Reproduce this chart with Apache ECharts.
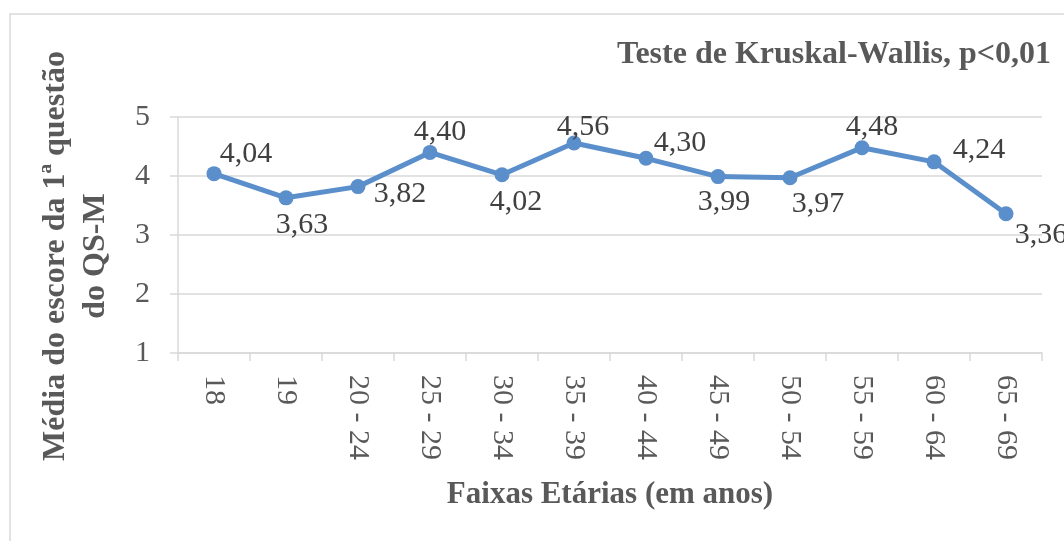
<!DOCTYPE html>
<html lang="pt">
<head>
    <meta charset="UTF-8">
    <title>Média do escore da 1ª questão do QS-M</title>
    <style>
        html, body { margin: 0; padding: 0; background: #fff; }
        #main { width: 1064px; height: 541px; }
    </style>
</head>
<body>
<div id="main"></div>
<script src="https://cdn.jsdelivr.net/npm/echarts@6/dist/echarts.min.js"></script>
<script>
    // dados
    const faixas = ['18', '19', '20 - 24', '25 - 29', '30 - 34', '35 - 39',
        '40 - 44', '45 - 49', '50 - 54', '55 - 59', '60 - 64', '65 - 69'];
    const medias = [4.04, 3.63, 3.82, 4.40, 4.02, 4.56, 4.30, 3.99, 3.97, 4.48, 4.24, 3.36];
    const yTicks = [1, 2, 3, 4, 5];

    // deslocamento de cada rótulo em relação ao ponto (estilo)
    const labelOffsets = [[32, -20], [16, 27], [42, 8], [10, -20], [14, 27], [9, -16],
        [34, -15], [6, 26], [28, 26], [10, -21], [45, -12], [35, 21]];

    const serif = "'Liberation Serif', 'Times New Roman', serif";
    const grey = '#595959';
    const gridColor = '#d9d9d9';

    const myChart = echarts.init(document.getElementById('main'));

    myChart.setOption({
        animation: false,
        title: {
            text: 'Teste de Kruskal-Wallis, p<0,01',
            right: 8,
            top: 34,
            textStyle: { fontFamily: serif, fontSize: 32, fontWeight: 'bold', color: grey }
        },
        graphic: [
            {
                type: 'rect',
                shape: { x: 10, y: 14, width: 1200, height: 700 },
                style: { fill: 'none', stroke: gridColor, lineWidth: 1.5 },
                silent: true
            },
            {
                type: 'text',
                x: 76, y: 256,
                rotation: Math.PI / 2,
                style: {
                    text: 'Média do escore da 1ª questão\ndo QS-M',
                    fontFamily: serif, fontSize: 32, fontWeight: 'bold',
                    fill: grey, align: 'center', verticalAlign: 'middle', lineHeight: 40
                }
            }
        ],
        grid: { left: 178, right: 22, top: 117, bottom: 188 },
        xAxis: {
            type: 'category',
            data: faixas,
            boundaryGap: true,
            name: 'Faixas Etárias (em anos)',
            nameLocation: 'middle',
            nameGap: 126,
            nameTextStyle: { fontFamily: serif, fontSize: 31, fontWeight: 'bold', color: grey },
            axisLine: { lineStyle: { color: gridColor, width: 1.5 } },
            axisTick: { show: true, length: 8, lineStyle: { color: gridColor, width: 1.5 } },
            axisLabel: { rotate: -90, margin: 22, fontFamily: serif, fontSize: 30, color: grey }
        },
        yAxis: {
            type: 'value',
            min: yTicks[0],
            max: yTicks[yTicks.length - 1],
            interval: 1,
            axisLine: { show: true, lineStyle: { color: gridColor, width: 1.5 } },
            axisTick: { show: true, length: 8, lineStyle: { color: gridColor, width: 1.5 } },
            splitLine: { lineStyle: { color: gridColor, width: 1.5 } },
            axisLabel: { margin: 28, fontFamily: serif, fontSize: 30, color: grey }
        },
        series: [
            {
                type: 'line',
                data: medias.map(function (v, i) {
                    return {
                        value: v,
                        label: { offset: labelOffsets[i] }
                    };
                }),
                symbol: 'circle',
                symbolSize: 15,
                lineStyle: { color: '#5b8fcb', width: 5 },
                itemStyle: { color: '#5b8fcb' },
                label: {
                    show: true,
                    position: 'inside',
                    align: 'center',
                    verticalAlign: 'middle',
                    fontFamily: serif,
                    fontSize: 30,
                    color: '#404040',
                    formatter: function (p) {
                        return p.value.toFixed(2).replace('.', ',');
                    }
                }
            }
        ]
    });
</script>
</body>
</html>
